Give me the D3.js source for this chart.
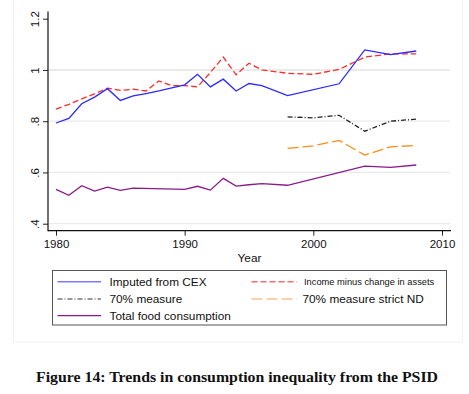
<!DOCTYPE html>
<html><head><meta charset="utf-8">
<script src="https://cdn.jsdelivr.net/npm/d3@7"></script>
<style>
html,body{margin:0;padding:0;background:#fff;}
svg{display:block;font-family:"Liberation Sans",Arial,Helvetica,sans-serif;}
</style></head><body>
<svg id="c" width="469" height="394"></svg>
<script>
// ---- data ----
const cexYears   = [1980,1981,1982,1983,1984,1985,1986,1987,1988,1989,1990,1991,1992,1993,1994,1995,1996,1998,2002,2004,2006,2008];
const cexValues  = [0.793,0.811,0.868,0.894,0.927,0.881,0.899,0.908,0.918,0.930,0.942,0.983,0.934,0.964,0.918,0.947,0.939,0.900,0.946,1.078,1.060,1.074];
const incYears   = [1980,1981,1982,1983,1984,1985,1986,1987,1988,1989,1990,1991,1992,1993,1994,1995,1996,1998,2000,2002,2004,2006,2008];
const incValues  = [0.847,0.866,0.887,0.907,0.929,0.920,0.925,0.918,0.957,0.939,0.939,0.934,0.990,1.050,0.981,1.026,1.000,0.987,0.983,1.002,1.050,1.063,1.063];
const m70Years   = [1998,2000,2002,2004,2006,2008];
const m70Values  = [0.817,0.813,0.823,0.761,0.800,0.808];
const strYears   = [1998,2000,2002,2004,2006,2008];
const strValues  = [0.694,0.704,0.725,0.668,0.700,0.705];
const foodYears  = [1980,1981,1982,1983,1984,1985,1986,1990,1991,1992,1993,1994,1995,1996,1998,2004,2006,2008];
const foodValues = [0.534,0.511,0.548,0.527,0.543,0.530,0.539,0.534,0.546,0.531,0.577,0.547,0.552,0.556,0.550,0.625,0.620,0.629];
const xTicks = [1980,1990,2000,2010];
const yTicks = [0.4,0.6,0.8,1.0,1.2];
const yTickLabels = [".4",".6",".8","1","1.2"];
const gridValues = [0.4,0.6,0.8,1.0];
const seriesNames = ["Imputed from CEX","Income minus change in assets","70% measure","70% measure strict ND","Total food consumption"];
const xTitle = "Year";
const caption = "Figure 14: Trends in consumption inequality from the PSID";

// ---- drawing ----
const svg = d3.select("#c");
const x = d3.scaleLinear().domain([1980,2010]).range([56,442]);
const y = d3.scaleLinear().domain([0.4,1.2]).range([223.7,18.7]);

// outer faint panel
svg.append("rect").attr("x",13.5).attr("y",-2).attr("width",449).attr("height",344)
  .attr("fill","#fff").attr("stroke","#f1f1f1").attr("stroke-width",1);

// grid
svg.append("g").selectAll("line").data(gridValues).join("line")
  .attr("x1",49).attr("x2",450).attr("y1",d=>y(d)).attr("y2",d=>y(d))
  .attr("stroke","#eaeaea").attr("stroke-width",d=>d===1.0?2:1.3);

// axes
const xAxis = d3.axisBottom(x).tickValues(xTicks).tickFormat(d3.format("d")).tickSize(5).tickSizeOuter(0).tickPadding(4);
const gx = svg.append("g").attr("transform","translate(0,230.7)").call(xAxis);
gx.select(".domain").remove();
gx.selectAll("line").attr("stroke","#222");
gx.selectAll("text").attr("font-size","11.5px").attr("fill","#111").attr("font-family","Liberation Sans, Arial, sans-serif");
svg.append("line").attr("x1",48).attr("x2",451).attr("y1",230.7).attr("y2",230.7).attr("stroke","#111").attr("stroke-width",1.2);

const yAxis = d3.axisLeft(y).tickValues(yTicks).tickFormat((d,i)=>yTickLabels[i]).tickSize(5).tickSizeOuter(0);
const gy = svg.append("g").attr("transform","translate(48,0)").call(yAxis);
gy.select(".domain").remove();
gy.selectAll("line").attr("stroke","#222");
gy.selectAll("text").attr("font-size","11.5px").attr("fill","#111")
  .attr("font-family","Liberation Sans, Arial, sans-serif")
  .attr("text-anchor","middle").attr("x",0).attr("dy",0)
  .attr("transform","translate(-9,0) rotate(-90)");
svg.append("line").attr("x1",48).attr("x2",48).attr("y1",11.5).attr("y2",231.3).attr("stroke","#111").attr("stroke-width",1.2);

svg.append("text").attr("x",249.5).attr("y",262).attr("text-anchor","middle")
  .attr("font-size","11.8px").attr("fill","#111").text(xTitle);

// series
const styles = [
  {color:"#2a2aff", dash:null},
  {color:"#ff2a2a", dash:"6,3"},
  {color:"#222222", dash:"5,2,1,2"},
  {color:"#ff8c1a", dash:"11,4"},
  {color:"#8b1a8b", dash:null}
];
const seriesData = [
  d3.zip(cexYears,cexValues),
  d3.zip(incYears,incValues),
  d3.zip(m70Years,m70Values),
  d3.zip(strYears,strValues),
  d3.zip(foodYears,foodValues)
];
const line = d3.line().x(d=>x(d[0])).y(d=>y(d[1]));
const drawOrder = [4,3,2,1,0];
drawOrder.forEach(i=>{
  svg.append("path").datum(seriesData[i]).attr("d",line)
    .attr("fill","none").attr("stroke",styles[i].color).attr("stroke-width",1.3)
    .attr("stroke-dasharray",styles[i].dash).attr("stroke-linejoin","miter");
});

// legend
svg.append("rect").attr("x",52.5).attr("y",270.5).attr("width",394).attr("height",54.5)
  .attr("fill","#fff").attr("stroke","#555").attr("stroke-width",1);
const legPos = [
  {x1:57.5,x2:101,tx:109.5,y:281.7,fs:"11.8px"},
  {x1:251.5,x2:297,tx:304,y:281.7,fs:"9.3px"},
  {x1:57.5,x2:101,tx:109.5,y:299,fs:"11.8px"},
  {x1:251.5,x2:297,tx:302.5,y:299,fs:"11.8px"},
  {x1:57.5,x2:101,tx:109.5,y:315.7,fs:"11.8px"}
];
const legendColors = ["#7a7aff","#ff6a6a","#333","#ffa050","#8b1a8b"];
const legendDash = [null,"6,3","5,2,1,2","11,4",null];
seriesNames.forEach((n,i)=>{
  const p = legPos[i];
  svg.append("line").attr("x1",p.x1).attr("x2",p.x2).attr("y1",p.y).attr("y2",p.y)
    .attr("stroke",legendColors[i]).attr("stroke-width",i===0||i===1?1.6:1.2)
    .attr("stroke-dasharray",legendDash[i]);
  svg.append("text").attr("x",p.tx).attr("y",p.y).attr("dy","0.36em")
    .attr("font-size",p.fs).attr("fill","#111").text(n);
});

// caption
svg.append("text").attr("x",237).attr("y",381.5).attr("text-anchor","middle")
  .attr("font-family","Liberation Serif, 'Times New Roman', serif").attr("font-weight","bold")
  .attr("font-size","14px").attr("fill","#111").attr("textLength",402).attr("lengthAdjust","spacingAndGlyphs")
  .text(caption);
</script>
</body></html>
